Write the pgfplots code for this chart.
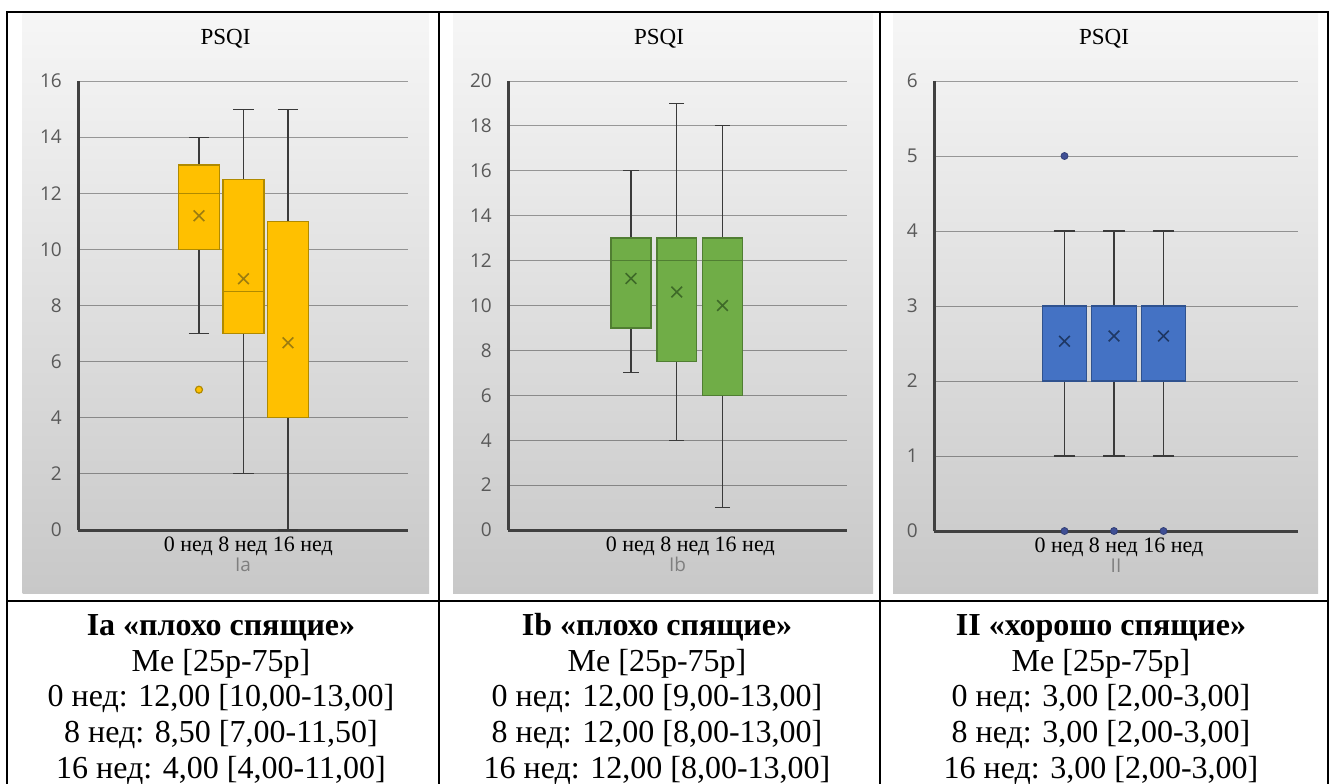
\documentclass[border=0pt]{standalone}
\usepackage{fontspec}
\setmainfont{Liberation Serif}
\newfontfamily\tickfont{Open Sans}
\usepackage{pgfplots}
\pgfplotsset{compat=1.18}
\usepgfplotslibrary{statistics}

\definecolor{yfill}{HTML}{FFC000}
\definecolor{yedge}{HTML}{B08A00}
\definecolor{ymean}{HTML}{9C7C10}
\definecolor{gfill}{HTML}{70AD47}
\definecolor{gedge}{HTML}{507E32}
\definecolor{gmean}{HTML}{3E6A28}
\definecolor{bfill}{HTML}{4472C4}
\definecolor{bedge}{HTML}{2F528F}
\definecolor{bmean}{HTML}{1F3864}
\definecolor{bdot}{HTML}{3F4F95}
\definecolor{axisgray}{HTML}{404040}
\definecolor{whiskergray}{HTML}{3A3A3A}
\definecolor{tickgray}{HTML}{595959}
\definecolor{labelgray}{HTML}{7F7F7F}
\definecolor{bgtop}{HTML}{F6F6F6}
\definecolor{bgbot}{HTML}{C8C8C8}

\pgfplotsset{
  panel/.style={
    scale only axis, anchor=south west, clip=false,
    axis lines*=left,
    axis line style={draw=axisgray, line width=3bp, -},
    ymin=0,
    ymajorgrids,
    major grid style={draw=black, draw opacity=0.36, line width=0.9bp},
    major tick length=0pt,
    /pgf/number format/assume math mode=true,
    yticklabel style={font=\tickfont\fontsize{19bp}{19bp}\selectfont, text=tickgray, anchor=east, inner sep=0pt, xshift=-16bp},
    xticklabel style={font=\fontsize{22bp}{22bp}\selectfont, text=black, anchor=base, inner sep=0pt, yshift=-21.7bp},
    xlabel style={font=\tickfont\fontsize{19bp}{19bp}\selectfont, text=labelgray, at={(axis description cs:0.5,0)}, anchor=base, inner sep=0pt, yshift=-41.5bp},
    boxplot/draw direction=y,
  },
  wstyle/.style={boxplot/every whisker/.style={draw=whiskergray, line width=1.1bp}},
}

\begin{document}
\begin{tikzpicture}
\path[use as bounding box] (0,0) rectangle (1336bp,-784bp);

% chart backgrounds
\shade[top color=bgtop, bottom color=bgbot] (22.7bp,-13bp) rectangle (429bp,-593bp);
\shade[top color=bgtop, bottom color=bgbot] (453bp,-13bp) rectangle (873bp,-593bp);
\shade[top color=bgtop, bottom color=bgbot] (893bp,-13bp) rectangle (1318bp,-593bp);

% titles
\node[anchor=base, font=\fontsize{23bp}{23bp}\selectfont] at (225.5bp,-44bp) {PSQI};
\node[anchor=base, font=\fontsize{23bp}{23bp}\selectfont] at (659bp,-44bp) {PSQI};
\node[anchor=base, font=\fontsize{23bp}{23bp}\selectfont] at (1104bp,-44bp) {PSQI};

% ---------- Panel Ia ----------
\begin{axis}[panel, at={(78bp,-530bp)}, width=330bp, height=449bp,
  xmin=-1.719, xmax=5.697, ymax=16, ytick={0,2,...,16},
  xtick={2.108}, xticklabels={0 нед 8 нед 16 нед}, xlabel={Ia}]
\addplot[wstyle, boxplot prepared={lower whisker=7, lower quartile=10, median=12, upper quartile=13, upper whisker=14, draw position=1, box extend=0.93, whisker extend=0.45}, draw=yedge, fill=yfill, line width=1.4bp] coordinates {};
\addplot[wstyle, boxplot prepared={lower whisker=2, lower quartile=7, median=8.5, upper quartile=12.5, upper whisker=15, draw position=2, box extend=0.93, whisker extend=0.45}, draw=yedge, fill=yfill, line width=1.4bp] coordinates {};
\addplot[wstyle, boxplot prepared={lower whisker=0, lower quartile=4, median=4, upper quartile=11, upper whisker=15, draw position=3, box extend=0.93, whisker extend=0.45}, draw=yedge, fill=yfill, line width=1.4bp] coordinates {};
\addplot[only marks, mark=x, color=ymean, mark size=7.5bp, mark options={line width=1.6bp}] coordinates {(1,11.2) (2,8.95) (3,6.67)};
\addplot[only marks, mark=*, mark size=3.5bp, mark options={fill=yfill, draw=yedge, line width=1.2bp}] coordinates {(1,5)};
\end{axis}

% ---------- Panel Ib ----------
\begin{axis}[panel, at={(508bp,-530bp)}, width=339bp, height=449bp,
  xmin=-1.689, xmax=5.721, ymax=20, ytick={0,2,...,20},
  xtick={2.295}, xticklabels={0 нед 8 нед 16 нед}, xlabel={Ib}]
\addplot[wstyle, boxplot prepared={lower whisker=7, lower quartile=9, median=12, upper quartile=13, upper whisker=16, draw position=1, box extend=0.87, whisker extend=0.33}, draw=gedge, fill=gfill, line width=1.4bp] coordinates {};
\addplot[wstyle, boxplot prepared={lower whisker=4, lower quartile=7.5, median=12, upper quartile=13, upper whisker=19, draw position=2, box extend=0.87, whisker extend=0.33}, draw=gedge, fill=gfill, line width=1.4bp] coordinates {};
\addplot[wstyle, boxplot prepared={lower whisker=1, lower quartile=6, median=12, upper quartile=13, upper whisker=18, draw position=3, box extend=0.87, whisker extend=0.33}, draw=gedge, fill=gfill, line width=1.4bp] coordinates {};
\addplot[only marks, mark=x, color=gmean, mark size=7.5bp, mark options={line width=1.6bp}] coordinates {(1,11.2) (2,10.6) (3,10.0)};
\end{axis}

% ---------- Panel II ----------
\begin{axis}[panel, at={(934bp,-531bp)}, width=364bp, height=450bp,
  xmin=-1.636, xmax=5.717, ymax=6, ytick={0,1,...,6},
  xtick={2.10}, xticklabels={0 нед 8 нед 16 нед}, xlabel={II}]
\addplot[wstyle, boxplot prepared={lower whisker=1, lower quartile=2, median=3, upper quartile=3, upper whisker=4, draw position=1, box extend=0.9, whisker extend=0.44}, draw=bedge, fill=bfill, line width=1.4bp] coordinates {};
\addplot[wstyle, boxplot prepared={lower whisker=1, lower quartile=2, median=3, upper quartile=3, upper whisker=4, draw position=2, box extend=0.9, whisker extend=0.44}, draw=bedge, fill=bfill, line width=1.4bp] coordinates {};
\addplot[wstyle, boxplot prepared={lower whisker=1, lower quartile=2, median=3, upper quartile=3, upper whisker=4, draw position=3, box extend=0.9, whisker extend=0.44}, draw=bedge, fill=bfill, line width=1.4bp] coordinates {};
\addplot[only marks, mark=x, color=bmean, mark size=7.5bp, mark options={line width=1.6bp}] coordinates {(1,2.53) (2,2.6) (3,2.6)};
\addplot[only marks, mark=*, mark size=3.5bp, mark options={fill=bdot, draw=bdot!80!black, line width=0.8bp}] coordinates {(1,5) (1,0) (2,0) (3,0)};
\end{axis}

% table lines
\draw[line width=2bp] (7bp,-784bp) -- (7bp,-11.7bp) -- (1328bp,-11.7bp) -- (1328bp,-784bp);
\draw[line width=2bp] (439bp,-11.7bp) -- (439bp,-784bp);
\draw[line width=2bp] (880bp,-11.7bp) -- (880bp,-784bp);
\draw[line width=2bp] (7bp,-600.5bp) -- (1328bp,-600.5bp);

% table text
\begin{scope}[every node/.style={anchor=base, inner sep=0pt, font=\fontsize{32bp}{32bp}\selectfont}]
\node at (221bp,-635bp) {\bfseries Ia «плохо спящие»};
\node at (221bp,-671bp) {Me [25p-75p]};
\node at (221bp,-706.5bp) {0 нед: 12,00 [10,00-13,00]};
\node at (221bp,-742bp) {8 нед: 8,50 [7,00-11,50]};
\node at (221bp,-778bp) {16 нед: 4,00 [4,00-11,00]};

\node at (657bp,-635bp) {\bfseries Ib «плохо спящие»};
\node at (657bp,-671bp) {Me [25p-75p]};
\node at (657bp,-706.5bp) {0 нед: 12,00 [9,00-13,00]};
\node at (657bp,-742bp) {8 нед: 12,00 [8,00-13,00]};
\node at (657bp,-778bp) {16 нед: 12,00 [8,00-13,00]};

\node at (1101bp,-635bp) {\bfseries II «хорошо спящие»};
\node at (1101bp,-671bp) {Me [25p-75p]};
\node at (1101bp,-706.5bp) {0 нед: 3,00 [2,00-3,00]};
\node at (1101bp,-742bp) {8 нед: 3,00 [2,00-3,00]};
\node at (1101bp,-778bp) {16 нед: 3,00 [2,00-3,00]};
\end{scope}
\end{tikzpicture}
\end{document}
